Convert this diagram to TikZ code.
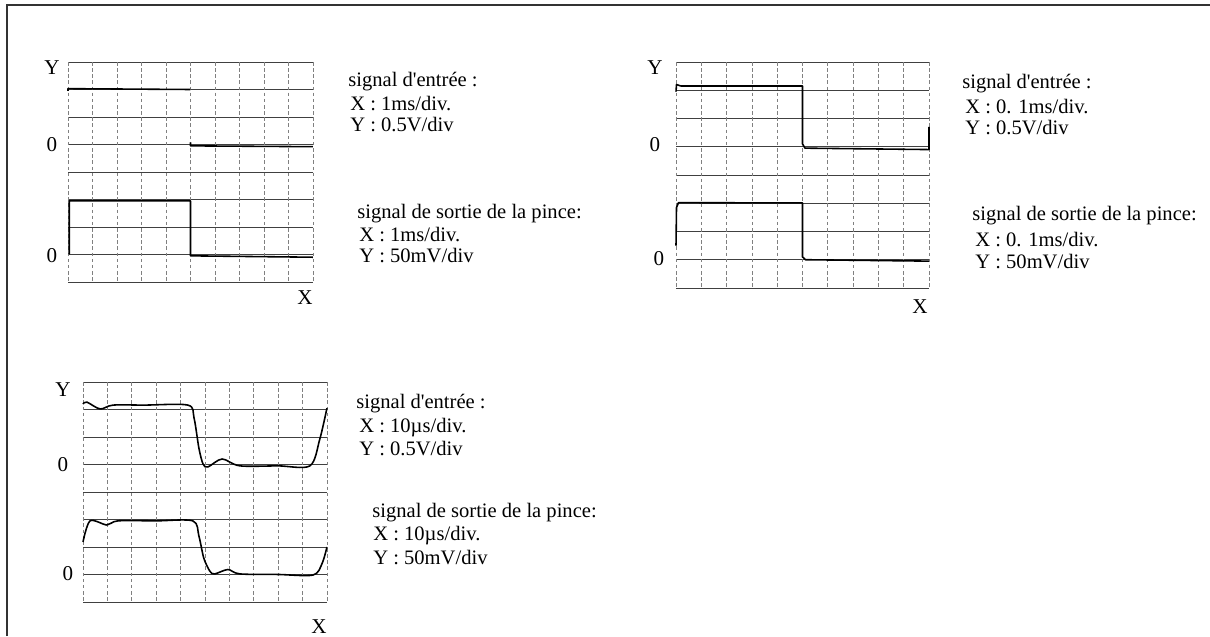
\documentclass[tikz,border=0pt]{standalone}
\usepackage{fontspec}
\setmainfont{Liberation Serif}
\usetikzlibrary{positioning}
\tikzset{
  grille/.style={draw=black!75, line width=0.5pt},
  tirets/.style={draw=black!50, line width=0.35pt, dash pattern=on 2pt off 1.5pt},
  signal/.style={draw=black, line width=0.9pt, line join=round},
  legende/.style={anchor=west, inner sep=0pt, font=\fontsize{11.7}{13}\selectfont},
  axe/.style={inner sep=0pt, font=\fontsize{12}{13}\selectfont}
}

\begin{document}
\begin{tikzpicture}[x=0.02cm, y=-0.02cm]
\useasboundingbox (0,0) rectangle (1210,636);
% cadre
\draw[line width=0.9pt, black!80] (7,636) -- (7,5) -- (1210,5);

% ecran 1 : 1ms/div
\begin{scope}[shift={(68,62)}, x=0.49cm, y=-0.55cm]
  \foreach \i in {0,...,8} \draw[grille] (0,\i) -- (10,\i);
  \foreach \j in {0,...,10} \draw[tirets] (\j,0) -- (\j,8);
  \draw[signal] (0,1.05) -- (0,0.97) -- (5,1.0);
  \draw[signal] (5,2.92) -- (5,3.05) -- (10,3.08);
  \draw[signal] (0.05,7) -- (0.05,5.05) -- (5,5.05) -- (5,7.05) -- (10,7.1);
\end{scope}
\node[axe] (ya) at (52,68) {Y};
\node[axe] (za) at (52,145) {0};
\node[axe] (zb) at (52,256) {0};
\node[axe] (xa) at (305,298) {X};
\node[legende] (ea) at (348,82) {signal d\textquotesingle entrée :};
\node[legende] (eax) at (350,104) {X : 1ms/div.};
\node[legende] (eay) at (350,125) {Y : 0.5V/div};
\node[legende] (sa) at (357,214) {signal de sortie de la pince:};
\node[legende] (sax) at (359,235) {X : 1ms/div.};
\node[legende] (say) at (359,256) {Y : 50mV/div};

% ecran 2 : 0.1ms/div
\begin{scope}[shift={(676,62)}, x=0.506cm, y=-0.565cm]
  \foreach \i in {0,...,8} \draw[grille] (0,\i) -- (10,\i);
  \foreach \j in {0,...,10} \draw[tirets] (\j,0) -- (\j,8);
  \draw[signal] (0,1.05) -- (0.02,0.8) -- (0.2,0.85) -- (5.0,0.85) -- (5.0,2.9)
    -- (5.1,3.05) -- (10,3.1) -- (10,2.3);
  \draw[signal] (0,6.5) -- (0.02,5.15) -- (0.1,4.98) -- (5.0,4.99) -- (5.0,6.9)
    -- (5.12,7.0) -- (10,7.05);
\end{scope}
\node[axe] (yb) at (655,68) {Y};
\node[axe] (zc) at (655,145) {0};
\node[axe] (zd) at (659,259) {0};
\node[axe] (xb) at (920,307) {X};
\node[legende] (eb) at (962,84) {signal d\textquotesingle entrée :};
\node[legende] (ebx) at (965,107) {X : 0. 1ms/div.};
\node[legende] (eby) at (965,128) {Y : 0.5V/div};
\node[legende] (sb) at (972,216) {signal de sortie de la pince:};
\node[legende] (sbx) at (975,240) {X : 0. 1ms/div.};
\node[legende] (sby) at (975,262) {Y : 50mV/div};

% ecran 3 : 10us/div
\begin{scope}[shift={(83,382)}, x=0.488cm, y=-0.55cm]
  \foreach \i in {0,...,8} \draw[grille] (0,\i) -- (10,\i);
  \foreach \j in {0,...,10} \draw[tirets] (\j,0) -- (\j,8);
  \draw[signal] plot[smooth, tension=0.5] coordinates {(0,0.8) (0.16,0.73)
    (0.7,0.98) (1.23,0.84) (2.5,0.84) (4.3,0.84) (4.55,1.3) (4.75,2.4)
    (4.92,2.98) (5.12,3.09) (5.7,2.8) (6.43,3.05) (8,3.05) (9.3,3.05)
    (9.7,2.1) (10,0.95)};
  \draw[signal] plot[smooth, tension=0.5] coordinates {(0,5.82) (0.29,5.05)
    (0.98,5.2) (1.43,5.05) (3,5.05) (4.5,5.05) (4.75,5.6) (4.95,6.4)
    (5.2,6.88) (5.4,6.98) (5.94,6.82) (6.43,6.98) (8,7.0) (9.43,7.02)
    (9.8,6.6) (10,6.0)};
\end{scope}
\node[axe] (yc) at (63,390) {Y};
\node[axe] (ze) at (63,465) {0};
\node[axe] (zf) at (68,574) {0};
\node[axe] (xc) at (319,627) {X};
\node[legende] (ec) at (356,404) {signal d\textquotesingle entrée :};
\node[legende] (ecx) at (359,428) {X : 10µs/div.};
\node[legende] (ecy) at (359,449) {Y : 0.5V/div};
\node[legende] (sc) at (372,513) {signal de sortie de la pince:};
\node[legende] (scx) at (373,536) {X : 10µs/div.};
\node[legende] (scy) at (373,558) {Y : 50mV/div};
\end{tikzpicture}
\end{document}
